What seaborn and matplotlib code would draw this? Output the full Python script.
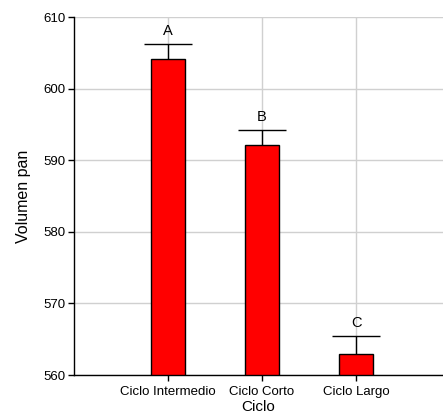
import matplotlib
matplotlib.use("Agg")
import matplotlib.pyplot as plt
import seaborn as sns
import pandas as pd

ciclos = ["Ciclo Intermedio", "Ciclo Corto", "Ciclo Largo"]
volumen = [604.1, 592.1, 562.9]
error = [2.1, 2.1, 2.6]
letras = ["A", "B", "C"]

sns.set_style("white")
plt.rcParams["font.family"] = ["Liberation Sans", "DejaVu Sans"]
plt.rcParams["text.color"] = "black"
plt.rcParams["axes.labelcolor"] = "black"
plt.rcParams["xtick.color"] = "black"
plt.rcParams["ytick.color"] = "black"

df = pd.DataFrame({"Ciclo": ciclos, "Volumen pan": volumen})

fig = plt.figure(figsize=(4.43, 4.19), dpi=100)
ax = fig.add_axes([74 / 443, 44 / 419, 1 - 74 / 443, (375 - 17) / 419])

sns.barplot(data=df, x="Ciclo", y="Volumen pan", color="red", saturation=1,
            width=0.37, edgecolor="black", linewidth=1, errorbar=None, ax=ax)

ax.set_axisbelow(True)
ax.xaxis.grid(True, color="#d0d0d0", linewidth=1)
ax.yaxis.grid(True, color="#d0d0d0", linewidth=1)

xs = list(range(len(ciclos)))
eb = ax.errorbar(xs, volumen, yerr=[[0] * len(error), error], fmt="none",
                 ecolor="black", elinewidth=1, capsize=17.5, capthick=1, zorder=5)
# solo la barra superior
eb[1][0].set_visible(False)

for x, v, e, l in zip(xs, volumen, error, letras):
    ax.text(x, v + e + 0.8, l, ha="center", va="bottom", fontsize=10.5)

ax.set_ylim(560, 610)
ax.set_yticks([560, 570, 580, 590, 600, 610])
ax.set_xlim(-1, (443 - 74) / 94 - 1)

for s in ["top", "right"]:
    ax.spines[s].set_visible(False)
for s in ["left", "bottom"]:
    ax.spines[s].set_color("black")
    ax.spines[s].set_linewidth(1)

ax.tick_params(axis="both", direction="out", length=4, width=1, color="black",
               labelsize=9.5, left=True, bottom=True, pad=2)
ax.tick_params(axis="x", pad=4)
ax.set_xlabel("Ciclo", fontsize=11, labelpad=1.5)
ax.set_ylabel("Volumen pan", fontsize=11.5, labelpad=9)

fig.savefig("out.png", dpi=100)
